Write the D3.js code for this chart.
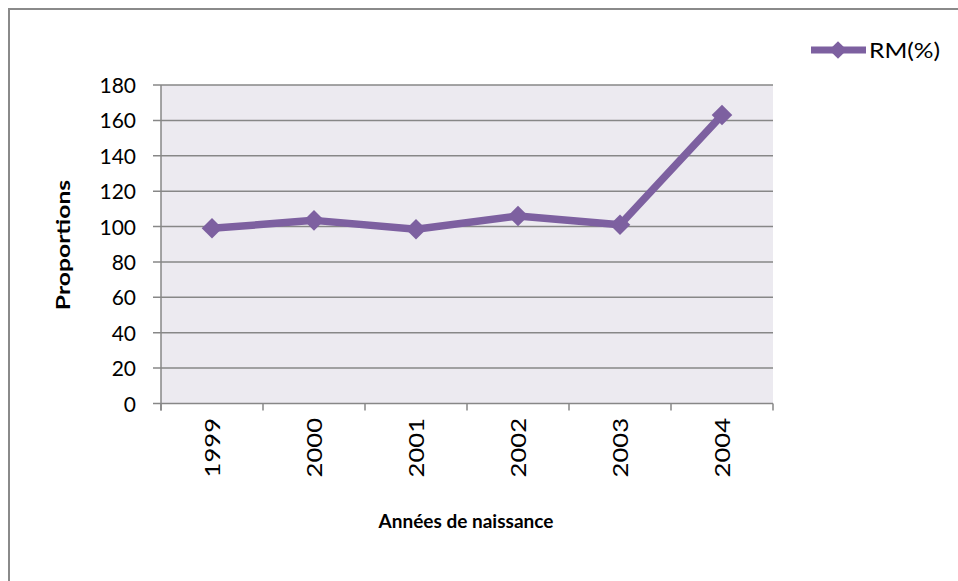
<!DOCTYPE html>
<head>
    <meta charset="utf-8">
    <script src="https://d3js.org/d3.v7.min.js"></script>
    <style>
        body { margin: 0; background: #fff; }
        text { font-family: Lato, "Open Sans", sans-serif; }
    </style>
</head>

<body>
    <svg width="958" height="581"></svg>

    <script>
        // data
        const years = ["1999", "2000", "2001", "2002", "2003", "2004"]
        const rm = [99, 103.5, 98.5, 106, 101, 163]
        const yTicks = [0, 20, 40, 60, 80, 100, 120, 140, 160, 180]
        const seriesName = "RM(%)"

        const svg = d3.select("svg")
        const purple = "#7D60A0"
        const grid = "#878787"

        // outer frame (runs off the right / bottom of the image)
        svg.append("rect")
            .attr("x", 9).attr("y", 9)
            .attr("width", 1000).attr("height", 700)
            .attr("fill", "#fff")
            .attr("stroke", "#8a8a8a")
            .attr("stroke-width", 2)

        const plotL = 161, plotR = 773, plotT = 85, plotB = 403.5

        const x = d3.scaleBand().domain(years).range([plotL, plotR])
        const y = d3.scaleLinear().domain([0, 180]).range([plotB, plotT])

        svg.append("rect")
            .attr("x", plotL).attr("y", plotT)
            .attr("width", plotR - plotL).attr("height", plotB - plotT)
            .attr("fill", "#ECEAF0")

        // horizontal grid lines + y ticks
        svg.append("g")
            .selectAll("line")
            .data(yTicks)
            .enter()
            .append("line")
            .attr("x1", plotL - 8).attr("x2", plotR)
            .attr("y1", d => y(d)).attr("y2", d => y(d))
            .attr("stroke", grid)
            .attr("stroke-width", 1.5)

        const yAxis = d3.axisLeft(y).tickValues(yTicks).tickSize(0).tickPadding(25)
        svg.append("g")
            .attr("transform", `translate(${plotL},0)`)
            .call(yAxis)
            .call(g => g.select(".domain").remove())
            .selectAll("text")
            .attr("font-family", "Lato, 'Open Sans', sans-serif")
            .attr("font-size", 21)
            .attr("fill", "#000")
            .attr("dy", "0.36em")

        // y axis line
        svg.append("line")
            .attr("x1", plotL).attr("x2", plotL)
            .attr("y1", plotT).attr("y2", plotB + 7)
            .attr("stroke", grid).attr("stroke-width", 1.5)

        // x ticks at category boundaries
        const bounds = years.map(d => x(d)).concat([plotR])
        svg.append("g")
            .selectAll("line")
            .data(bounds)
            .enter()
            .append("line")
            .attr("x1", d => d).attr("x2", d => d)
            .attr("y1", plotB).attr("y2", plotB + 7)
            .attr("stroke", grid).attr("stroke-width", 1.5)

        // x labels, rotated (stretched a bit along the text, as in the source)
        svg.append("g")
            .selectAll("text")
            .data(years)
            .enter()
            .append("text")
            .attr("transform", d => `translate(${x(d) + x.bandwidth() / 2 + 8},418) rotate(-90) scale(1.22,1)`)
            .attr("text-anchor", "end")
            .attr("font-size", 21)
            .attr("fill", "#000")
            .text(d => d)

        // line
        const line = d3.line()
            .x((d, i) => x(years[i]) + x.bandwidth() / 2)
            .y(d => y(d))

        svg.append("path")
            .attr("d", line(rm))
            .attr("fill", "none")
            .attr("stroke", purple)
            .attr("stroke-width", 7.5)
            .attr("stroke-linejoin", "round")

        const diamond = d3.symbol().type(d3.symbolDiamond2).size(270)
        svg.append("g")
            .selectAll("path")
            .data(rm)
            .enter()
            .append("path")
            .attr("transform", (d, i) => `translate(${x(years[i]) + x.bandwidth() / 2},${y(d)})`)
            .attr("d", diamond)
            .attr("fill", purple)

        // axis titles
        svg.append("text")
            .attr("transform", "translate(70,245) rotate(-90) scale(1.3,1)")
            .attr("text-anchor", "middle")
            .attr("font-size", 19)
            .attr("font-weight", "bold")
            .text("Proportions")

        svg.append("text")
            .attr("x", 466).attr("y", 528)
            .attr("text-anchor", "middle")
            .attr("font-size", 19)
            .attr("font-weight", "bold")
            .text("Années de naissance")

        // legend
        svg.append("line")
            .attr("x1", 811).attr("x2", 866)
            .attr("y1", 50).attr("y2", 50)
            .attr("stroke", purple).attr("stroke-width", 7)
        svg.append("path")
            .attr("transform", "translate(838,50)")
            .attr("d", d3.symbol().type(d3.symbolDiamond2).size(200))
            .attr("fill", purple)
        svg.append("text")
            .attr("transform", "translate(869,57.5) scale(1.12,1)")
            .attr("font-size", 22)
            .text(seriesName)
    </script>
</body>
